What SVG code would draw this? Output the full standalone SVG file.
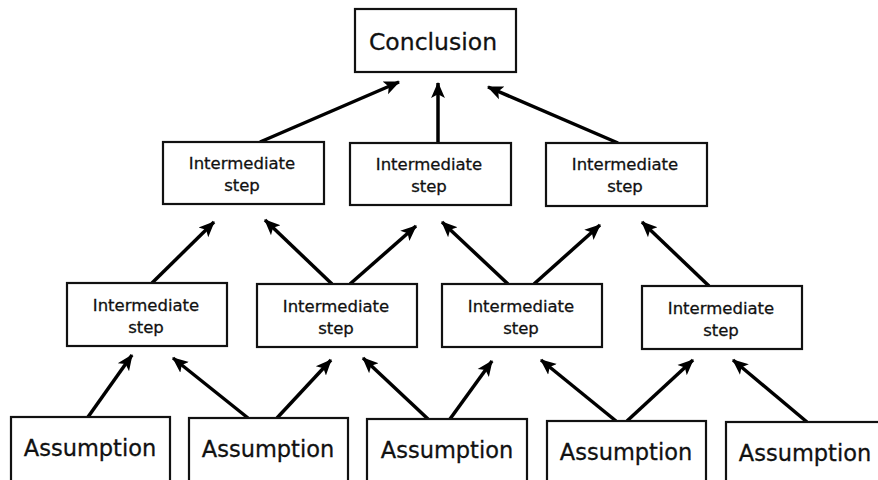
<svg xmlns="http://www.w3.org/2000/svg" width="878" height="480" viewBox="0 0 878 480">
<style>
  .box { fill: #ffffff; stroke: #111111; stroke-width: 2.2; }
  .t { font-family: "DejaVu Sans", "Liberation Sans", sans-serif; fill: #111111; text-anchor: middle; stroke: #111111; stroke-width: 0.3; }
  .big { font-size: 23.5px; }
  .mid { font-size: 22.5px; }
  .small { font-size: 16.5px; }
  .arr { stroke: #000000; stroke-width: 3.5; fill: none; marker-end: url(#ah); }
</style>
<defs>
  <marker id="ah" viewBox="0 0 16 16" refX="14" refY="8" markerWidth="17" markerHeight="17" markerUnits="userSpaceOnUse" orient="auto">
    <path d="M0,1.5 L15,8 L0,14.5 L3.5,8 Z" fill="#000000"/>
  </marker>
</defs>
<rect width="878" height="480" fill="#ffffff"/>

<g id="connectors">
  <line class="arr" x1="260" y1="142" x2="399" y2="82"/>
  <line class="arr" x1="438" y1="143" x2="438" y2="83"/>
  <line class="arr" x1="618" y1="143" x2="488" y2="87"/>

  <line class="arr" x1="152" y1="283" x2="214" y2="222"/>
  <line class="arr" x1="332" y1="284" x2="265" y2="220"/>
  <line class="arr" x1="350" y1="284" x2="416" y2="226"/>
  <line class="arr" x1="508" y1="284" x2="442" y2="222"/>
  <line class="arr" x1="534" y1="284" x2="600" y2="225"/>
  <line class="arr" x1="709" y1="286" x2="642" y2="222"/>

  <line class="arr" x1="88" y1="417" x2="132" y2="355"/>
  <line class="arr" x1="248" y1="418" x2="173" y2="358"/>
  <line class="arr" x1="277" y1="418" x2="331" y2="360"/>
  <line class="arr" x1="428" y1="419" x2="363" y2="358"/>
  <line class="arr" x1="450" y1="419" x2="492" y2="361"/>
  <line class="arr" x1="616" y1="421" x2="541" y2="360"/>
  <line class="arr" x1="627" y1="421" x2="693" y2="360"/>
  <line class="arr" x1="807" y1="422" x2="733" y2="360"/>
</g>

<g id="conclusion">
  <rect class="box" x="355" y="9" width="161" height="63"/>
  <text class="t big" x="433" y="50">Conclusion</text>
</g>

<g id="step1a">
  <rect class="box" x="163" y="142" width="161" height="62"/>
  <text class="t small" x="242" y="169">Intermediate</text>
  <text class="t small" x="242" y="191">step</text>
</g>
<g id="step1b">
  <rect class="box" x="350" y="143" width="161" height="62"/>
  <text class="t small" x="429" y="170">Intermediate</text>
  <text class="t small" x="429" y="192">step</text>
</g>
<g id="step1c">
  <rect class="box" x="546" y="143" width="161" height="63"/>
  <text class="t small" x="625" y="170">Intermediate</text>
  <text class="t small" x="625" y="192">step</text>
</g>

<g id="step2a">
  <rect class="box" x="67" y="283" width="160" height="63"/>
  <text class="t small" x="146" y="311">Intermediate</text>
  <text class="t small" x="146" y="333">step</text>
</g>
<g id="step2b">
  <rect class="box" x="257" y="284" width="160" height="63"/>
  <text class="t small" x="336" y="312">Intermediate</text>
  <text class="t small" x="336" y="334">step</text>
</g>
<g id="step2c">
  <rect class="box" x="442" y="284" width="160" height="63"/>
  <text class="t small" x="521" y="312">Intermediate</text>
  <text class="t small" x="521" y="334">step</text>
</g>
<g id="step2d">
  <rect class="box" x="642" y="286" width="160" height="63"/>
  <text class="t small" x="721" y="314">Intermediate</text>
  <text class="t small" x="721" y="336">step</text>
</g>

<g id="assumption1">
  <rect class="box" x="11" y="417" width="159" height="75"/>
  <text class="t mid" x="90" y="456">Assumption</text>
</g>
<g id="assumption2">
  <rect class="box" x="189" y="418" width="159" height="75"/>
  <text class="t mid" x="268" y="457">Assumption</text>
</g>
<g id="assumption3">
  <rect class="box" x="367" y="419" width="160" height="75"/>
  <text class="t mid" x="447" y="458">Assumption</text>
</g>
<g id="assumption4">
  <rect class="box" x="547" y="421" width="159" height="75"/>
  <text class="t mid" x="626" y="460">Assumption</text>
</g>
<g id="assumption5">
  <rect class="box" x="726" y="422" width="160" height="75"/>
  <text class="t mid" x="805" y="461">Assumption</text>
</g>
</svg>
